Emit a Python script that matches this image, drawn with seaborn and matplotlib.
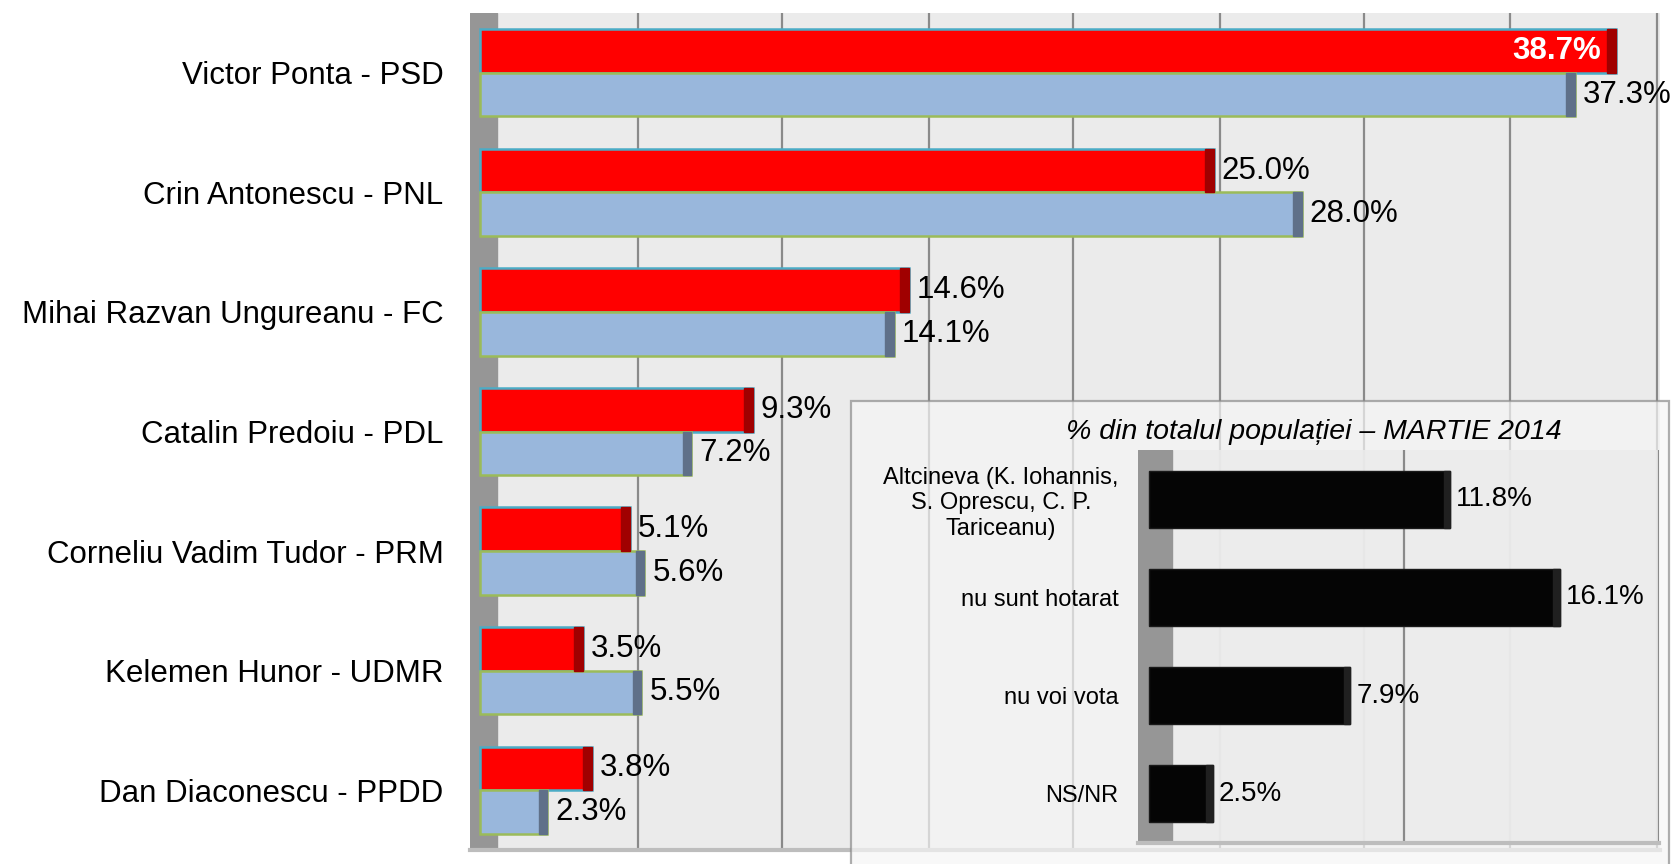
import pandas as pd
import seaborn as sns
import matplotlib.pyplot as plt
from matplotlib.patches import Rectangle

# date sondaj
candidati = ["Victor Ponta - PSD", "Crin Antonescu - PNL", "Mihai Razvan Ungureanu - FC",
             "Catalin Predoiu - PDL", "Corneliu Vadim Tudor - PRM", "Kelemen Hunor - UDMR",
             "Dan Diaconescu - PPDD"]
serie_rosie = [38.7, 25.0, 14.6, 9.3, 5.1, 3.5, 3.8]
serie_albastra = [37.3, 28.0, 14.1, 7.2, 5.6, 5.5, 2.3]

optiuni = ["Altcineva (K. Iohannis,\nS. Oprescu, C. P.\nTariceanu)", "nu sunt hotarat",
           "nu voi vota", "NS/NR"]
procente_optiuni = [11.8, 16.1, 7.9, 2.5]
titlu_inset = "% din totalul populației – MARTIE 2014"

W, H = 1675, 864


def fig_box(x0, y0, x1, y1):
    # pixeli (sus-stanga) -> fractii din figura
    return [x0 / W, 1 - y1 / H, (x1 - x0) / W, (y1 - y0) / H]


def draw_main(fig):
    ax = fig.add_axes(fig_box(470, 13, 1660, 850))
    df = pd.DataFrame({
        "candidat": candidati * 2,
        "procent": serie_rosie + serie_albastra,
        "serie": ["rosu"] * len(candidati) + ["albastru"] * len(candidati),
    })
    sns.barplot(data=df, y="candidat", x="procent", hue="serie", orient="h",
                palette=["#ff0000", "#99b7dc"], width=0.73, saturation=1,
                legend=False, ax=ax)

    ax.set_facecolor("#ebebeb")
    ax.set_xlim(-0.34, 40.2)
    ax.set_ylim(len(candidati) - 0.5, -0.5)
    ax.set_xticks([5.4, 10.3, 15.3, 20.2, 25.2, 30.1, 35.1, 40.1])
    ax.set_xticklabels([])
    ax.grid(axis="x", color="#8a8a8a", lw=1.6)
    ax.set_axisbelow(True)
    ax.axvspan(-0.34, 0.58, color="#969696", zorder=0.9)
    ax.tick_params(axis="y", labelsize=22.5, pad=19, length=0, labelcolor="black")
    ax.tick_params(axis="x", length=0)
    ax.set_xlabel("")
    ax.set_ylabel("")
    for s in ["top", "right", "left"]:
        ax.spines[s].set_visible(False)
    ax.spines["bottom"].set_color("#bdbdbd")
    ax.spines["bottom"].set_linewidth(3)

    edges = ["#4bacc6", "#9bbb59"]
    caps = ["#a00000", "#5f7089"]
    vals = [serie_rosie, serie_albastra]
    for k, cont in enumerate(ax.containers):
        for bar, v in zip(cont, vals[k]):
            bar.set_edgecolor(edges[k])
            bar.set_linewidth(1.8)
            y0, h = bar.get_y(), bar.get_height()
            ax.add_patch(Rectangle((bar.get_width() - 0.3, y0), 0.3, h,
                                   color=caps[k], zorder=3))
            yc = y0 + h / 2
            if k == 0 and v == max(serie_rosie):
                ax.text(v - 0.5, yc, f"{v:.1f}%", ha="right", va="center",
                        color="white", fontsize=22.5, fontweight="bold", zorder=4)
            else:
                ax.text(v + 0.27, yc, f"{v:.1f}%", ha="left", va="center",
                        color="black", fontsize=22.5, zorder=4)
    return ax


def draw_inset(fig):
    # cadrul semi-transparent
    x0, y0 = 851 / W, -0.01
    fig.add_artist(Rectangle((x0, y0), 1669 / W - x0, (1 - 401 / H) - y0,
                             transform=fig.transFigure, facecolor="#f6f6f6",
                             alpha=0.7, edgecolor="#8c8c8c", lw=1.6, zorder=1))
    fig.text(1314 / W, 1 - 432 / H, titlu_inset, ha="center", va="center",
             fontsize=20.5, style="italic", color="black", zorder=5)

    ax = fig.add_axes(fig_box(1138, 450, 1659, 843))
    ax.set_zorder(3)
    df = pd.DataFrame({"optiune": optiuni, "procent": procente_optiuni})
    sns.barplot(data=df, y="optiune", x="procent", orient="h", color="#050505",
                width=0.58, saturation=1, ax=ax)
    for bar in ax.containers[0]:
        bar.set_edgecolor("#1a1a1a")
        bar.set_linewidth(1)
        ax.add_patch(Rectangle((bar.get_width() - 0.25, bar.get_y()), 0.25,
                               bar.get_height(), color="#202020", zorder=3))
    ax.set_facecolor((0.92, 0.92, 0.92, 0.85))
    ax.set_xlim(-0.43, 20.0)
    ax.set_ylim(len(optiuni) - 0.5, -0.5)
    ax.set_xticks([10, 20])
    ax.set_xticklabels([])
    ax.grid(axis="x", color="#8a8a8a", lw=1.6)
    ax.set_axisbelow(True)
    ax.axvspan(-0.43, 0.9, color="#969696", zorder=0.9)
    ax.tick_params(axis="y", labelsize=17, pad=14, length=0, labelcolor="black")
    ax.tick_params(axis="x", length=0)
    for t in ax.get_yticklabels():
        t.set_multialignment("center")
    ax.set_xlabel("")
    ax.set_ylabel("")
    for s in ["top", "right", "left"]:
        ax.spines[s].set_visible(False)
    ax.spines["bottom"].set_color("#bdbdbd")
    ax.spines["bottom"].set_linewidth(3)

    for bar, v in zip(ax.containers[0], procente_optiuni):
        yc = bar.get_y() + bar.get_height() / 2
        ax.text(v + 0.25, yc, f"{v:.1f}%", ha="left", va="center",
                color="black", fontsize=20)


def main():
    sns.set_style("white")
    plt.rcParams["font.family"] = ["Liberation Sans", "DejaVu Sans"]
    plt.rcParams["text.color"] = "black"
    fig = plt.figure(figsize=(W / 100, H / 100), dpi=100)
    draw_main(fig)
    draw_inset(fig)
    fig.savefig("out.png", dpi=100)


if __name__ == '__main__':
    main()
